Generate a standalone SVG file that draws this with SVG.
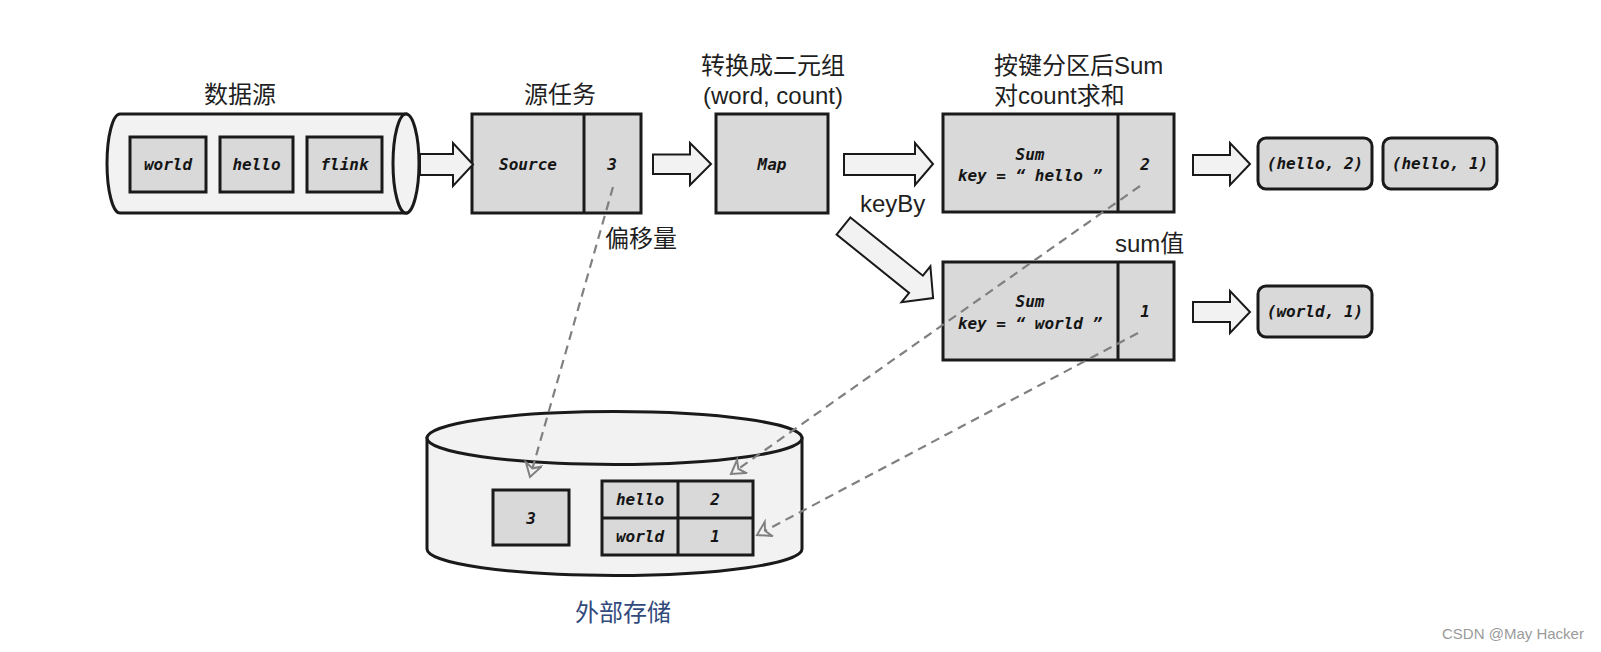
<svg xmlns="http://www.w3.org/2000/svg" width="1601" height="652" viewBox="0 0 1601 652">
<style>
.lbl{font-family:'Liberation Sans','Noto Sans CJK SC',sans-serif;font-size:24px;fill:#1f1f1f}
.mono{font-family:'DejaVu Sans Mono','Liberation Mono',monospace;font-style:italic;font-weight:bold;font-size:16px;fill:#151515;text-anchor:middle}
.box{fill:#d9d9d9;stroke:#1a1a1a;stroke-width:3}
.cyl{fill:#f2f2f2;stroke:#1a1a1a;stroke-width:3}
.barrow{fill:#f2f2f2;stroke:#1a1a1a;stroke-width:2;stroke-linejoin:miter}
.dash{fill:none;stroke:#808080;stroke-width:2.2;stroke-dasharray:9 6}
</style>
<defs>
<marker id="ah" markerUnits="userSpaceOnUse" markerWidth="20" markerHeight="20" refX="15" refY="9" orient="auto">
<path d="M2,1 L15,9 L2,17 L6,9 Z" fill="#f2f2f2" stroke="#808080" stroke-width="2" stroke-linejoin="miter"/>
</marker>
</defs>
<rect width="1601" height="652" fill="#ffffff"/>

<g id="datasource">
<text class="lbl" x="240" y="103" text-anchor="middle">数据源</text>
<path class="cyl" d="M406,114 L120,114 A13,49.5 0 0 0 120,213 L406,213 Z"/>
<ellipse class="cyl" cx="406" cy="163.5" rx="13" ry="49.5"/>
<rect class="box" x="130" y="137" width="76" height="55"/>
<text class="mono" x="168" y="170">world</text>
<rect class="box" x="220" y="137" width="73" height="55"/>
<text class="mono" x="256.5" y="170">hello</text>
<rect class="box" x="307" y="137" width="75" height="55"/>
<text class="mono" x="344.5" y="170">flink</text>
</g>

<g id="source">
<text class="lbl" x="560" y="103" text-anchor="middle">源任务</text>
<rect class="box" x="472" y="114" width="169" height="99"/>
<line x1="584" y1="114" x2="584" y2="213" stroke="#1a1a1a" stroke-width="3"/>
<text class="mono" x="528" y="170">Source</text>
<text class="mono" x="612" y="170">3</text>
<text class="lbl" x="641" y="247" text-anchor="middle">偏移量</text>
</g>

<g id="map">
<text class="lbl" x="773" y="74" text-anchor="middle">转换成二元组</text>
<text class="lbl" x="773" y="104" text-anchor="middle">(word, count)</text>
<rect class="box" x="716" y="114" width="112" height="99"/>
<text class="mono" x="772" y="170">Map</text>
</g>

<g id="sum-hello">
<text class="lbl" x="994" y="74">按键分区后Sum</text>
<text class="lbl" x="994" y="104">对count求和</text>
<rect class="box" x="943" y="114" width="231" height="98"/>
<line x1="1118" y1="114" x2="1118" y2="212" stroke="#1a1a1a" stroke-width="3"/>
<text class="mono" x="1030" y="160">Sum</text>
<text class="mono" x="1030" y="181">key = “ hello ”</text>
<text class="mono" x="1145" y="170">2</text>
</g>

<g id="sum-world">
<text class="lbl" x="1115" y="252">sum值</text>
<rect class="box" x="943" y="262" width="231" height="98"/>
<line x1="1118" y1="262" x2="1118" y2="360" stroke="#1a1a1a" stroke-width="3"/>
<text class="mono" x="1030" y="307">Sum</text>
<text class="mono" x="1030" y="329">key = “ world ”</text>
<text class="mono" x="1145" y="317">1</text>
</g>

<g id="out-hello-2">
<rect class="box" x="1258" y="138" width="114" height="51" rx="8"/>
<text class="mono" x="1315" y="169">(hello, 2)</text>
</g>
<g id="out-hello-1">
<rect class="box" x="1383" y="138" width="114" height="51" rx="8"/>
<text class="mono" x="1440" y="169">(hello, 1)</text>
</g>
<g id="out-world-1">
<rect class="box" x="1258" y="286" width="114" height="51" rx="8"/>
<text class="mono" x="1315" y="317">(world, 1)</text>
</g>

<g id="storage">
<path class="cyl" d="M427,438 L427,549 A187.5,26.5 0 0 0 802,549 L802,438 Z"/>
<ellipse class="cyl" cx="614.5" cy="438" rx="187.5" ry="26.5"/>
<rect class="box" x="493" y="490" width="76" height="55"/>
<text class="mono" x="531" y="524">3</text>
<rect class="box" x="602" y="481" width="151" height="74"/>
<line x1="678" y1="481" x2="678" y2="555" stroke="#1a1a1a" stroke-width="3"/>
<line x1="602" y1="518" x2="753" y2="518" stroke="#1a1a1a" stroke-width="3"/>
<text class="mono" x="640" y="505">hello</text>
<text class="mono" x="715" y="505">2</text>
<text class="mono" x="640" y="542">world</text>
<text class="mono" x="715" y="542">1</text>
<text class="lbl" x="623" y="621" text-anchor="middle" style="fill:#32497c">外部存储</text>
</g>

<g id="connectors">
<path class="barrow" d="M420,154 L453,154 L453,143 L473,164.5 L453,186 L453,175 L420,175 Z"/>
<path class="barrow" d="M653,154.5 L690,154.5 L690,143 L711,164 L690,185 L690,174 L653,174 Z"/>
<path class="barrow" d="M844,154 L915,154 L915,143 L933,164 L915,185 L915,175 L844,175 Z"/>
<text class="lbl" x="860" y="212">keyBy</text>
<path class="barrow" transform="translate(843.5,226) rotate(38.8)" d="M0,-11 L93,-11 L93,-23 L115,0 L93,23 L93,11 L0,11 Z"/>
<path class="barrow" d="M1193,155 L1230,155 L1230,143 L1250,164 L1230,185 L1230,175 L1193,175 Z"/>
<path class="barrow" d="M1193,302 L1230,302 L1230,291 L1250,312 L1230,333 L1230,322 L1193,322 Z"/>
<line class="dash" x1="613" y1="187" x2="530" y2="477" marker-end="url(#ah)"/>
<line class="dash" x1="1140" y1="186" x2="731" y2="474" marker-end="url(#ah)"/>
<line class="dash" x1="1138" y1="333" x2="757" y2="535" marker-end="url(#ah)"/>
</g>

<text x="1442" y="639" style="font-family:'Liberation Sans',sans-serif;font-size:15px;fill:#9a9a9a">CSDN @May Hacker</text>
</svg>
